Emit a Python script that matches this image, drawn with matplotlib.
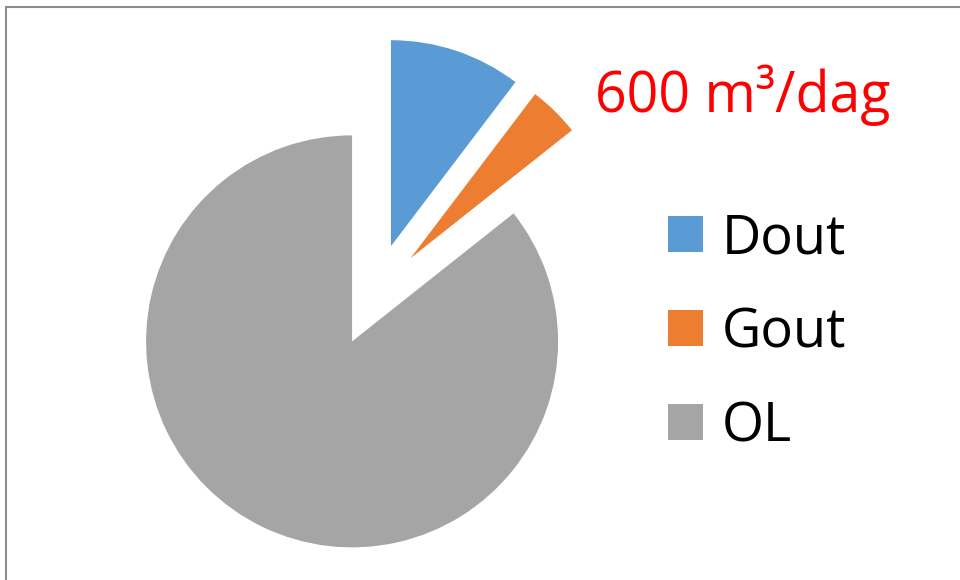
import matplotlib.pyplot as plt
from matplotlib.patches import Rectangle

# Dagflöden per fraktion
labels = ['Dout', 'Gout', 'OL']
values = [1550, 600, 12850]
colors = ['#5B9BD5', '#ED7D31', '#A5A5A5']
note = '600 m³/dag'

plt.rcParams['font.family'] = ['Open Sans', 'DejaVu Sans']

W, H = 960, 580
R = 206
fig = plt.figure(figsize=(W / 100, H / 100), dpi=100)
ax = fig.add_axes([0, 0, 1, 1])

# alla tårtbitar lyfts ut lika mycket (en fjärdedel av radien)
wedges, _ = ax.pie(values, colors=colors, explode=[0.25 * R] * len(values),
                   startangle=90, counterclock=False, radius=R,
                   center=(374.5, H - 295), wedgeprops=dict(linewidth=0))
ax.set_xlim(0, W)
ax.set_ylim(0, H)
ax.set_aspect('equal')
ax.axis('off')

# ram runt diagrammet
fig.patches.append(Rectangle((6 / W, -0.1), 1.2, (H - 7) / H + 0.1,
                             transform=fig.transFigure, fill=False,
                             edgecolor='#8C8C8C', linewidth=1.5))

ax.text(595, H - 112, note, color='#FF0000', fontsize=40,
        ha='left', va='baseline')

ax.legend(wedges, labels, loc='upper left',
          bbox_to_anchor=(668 / W, (H - 211) / H),
          frameon=False, fontsize=39, borderpad=0, borderaxespad=0,
          handlelength=0.64, handleheight=0.64, handletextpad=0.35,
          labelspacing=0.72)

fig.savefig('out.png', dpi=100)
